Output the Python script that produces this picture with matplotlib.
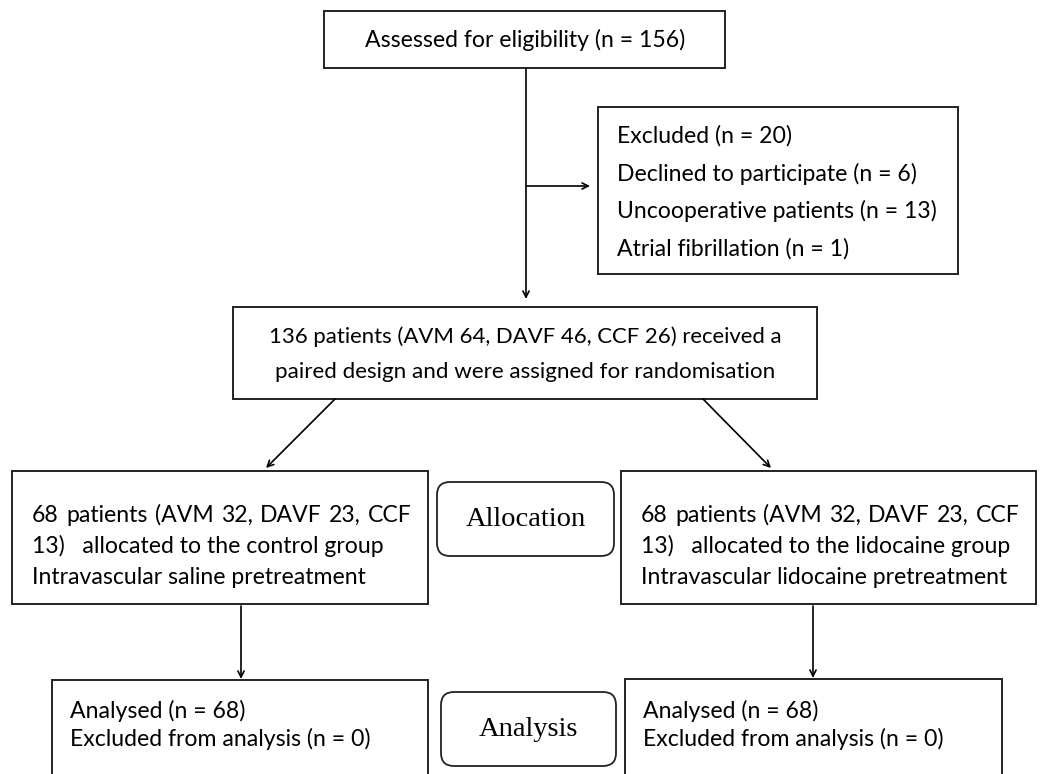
import matplotlib
matplotlib.use("Agg")
import matplotlib.pyplot as plt
from matplotlib.patches import Rectangle, FancyBboxPatch

# counts
n_assessed = 156
n_excluded = 20
excluded_reasons = ["Declined to participate", "Uncooperative patients", "Atrial fibrillation"]
excluded_counts = [6, 13, 1]
n_random = 136
random_split = {"AVM": 64, "DAVF": 46, "CCF": 26}
groups = ["control", "lidocaine"]
group_pretreat = ["saline", "lidocaine"]
group_n = [68, 68]
group_split = [{"AVM": 32, "DAVF": 23, "CCF": 13}, {"AVM": 32, "DAVF": 23, "CCF": 13}]
analysed_n = [68, 68]
analysis_excl = [0, 0]
stage_labels = ["Allocation", "Analysis"]

SANS = ["Lato", "DejaVu Sans"]
SERIF = ["Liberation Serif", "DejaVu Serif"]

fig = plt.figure(figsize=(10.4, 7.74), dpi=100)
ax = fig.add_axes([0, 0, 1, 1])
ax.set_xlim(0, 1040)
ax.set_ylim(774, 0)
ax.axis("off")
renderer = fig.canvas.get_renderer()

# font size fitted to the width of the top line
top_txt = f"Assessed for eligibility (n = {n_assessed})"
t = ax.text(0, 0, top_txt, family=SANS, fontsize=14)
w = t.get_window_extent(renderer).width
t.remove()
FS = 14 * 322 / w


def box(x0, y0, x1, y1, rounded=False):
    if rounded:
        p = FancyBboxPatch((x0, y0), x1 - x0, y1 - y0,
                           boxstyle="round,pad=0,rounding_size=13",
                           fc="white", ec="#222222", lw=1.3)
    else:
        p = Rectangle((x0, y0), x1 - x0, y1 - y0, fc="white", ec="#222222", lw=1.4)
    ax.add_patch(p)


def arrow(x0, y0, x1, y1):
    ax.annotate("", xy=(x1, y1), xytext=(x0, y0),
                arrowprops=dict(arrowstyle="->", color="black", lw=1.2,
                                shrinkA=0, shrinkB=0, mutation_scale=11))


def justified(text, x0, x1, y):
    words = text.split()
    objs = [ax.text(x0, y, wd, family=SANS, fontsize=FS, va="center") for wd in words]
    widths = [o.get_window_extent(renderer).width for o in objs]
    gap = (x1 - x0 - sum(widths)) / (len(words) - 1)
    x = x0
    for o, wd in zip(objs, widths):
        o.set_x(x)
        x += wd + gap


# top box
box(324, 11, 725, 68)
ax.text(525, 40, top_txt, family=SANS, fontsize=FS, ha="center", va="center")
arrow(526, 68, 526, 299)

# excluded box
box(598, 107, 958, 274)
excl_lines = [f"Excluded (n = {n_excluded})"] + \
    [f"{r} (n = {c})" for r, c in zip(excluded_reasons, excluded_counts)]
for i, s in enumerate(excl_lines):
    ax.text(617, 136 + i * 37.5, s, family=SANS, fontsize=FS, va="center")
arrow(526, 186, 590, 186)

# randomisation box
box(233, 307, 817, 399)
rs = ", ".join(f"{k} {v}" for k, v in random_split.items())
ax.text(525, 337, f"{n_random} patients ({rs}) received a",
        family=SANS, fontsize=FS * 0.96, ha="center", va="center")
ax.text(525, 372, "paired design and were assigned for randomisation",
        family=SANS, fontsize=FS * 0.97, ha="center", va="center")
arrow(335, 399, 266, 468)
arrow(703, 399, 771, 468)

# allocation boxes
mid_x = [(12, 428), (621, 1036)]
for g, (x0, x1) in enumerate(mid_x):
    box(x0, 471, x1, 604)
    sp = group_split[g]
    justified(f"{group_n[g]} patients (AVM {sp['AVM']}, DAVF {sp['DAVF']}, CCF",
              x0 + 20, x1 - 16, 515)
    ax.text(x0 + 20, 546, f"{sp['CCF']})   allocated to the {groups[g]} group",
            family=SANS, fontsize=FS, va="center")
    ax.text(x0 + 20, 577, f"Intravascular {group_pretreat[g]} pretreatment",
            family=SANS, fontsize=FS, va="center")

box(437, 482, 614, 556, rounded=True)
ax.text(526, 519, stage_labels[0], family=SERIF, fontsize=20.5, ha="center", va="center")

# analysis boxes
arrow(241, 606, 241, 679)
arrow(813, 606, 813, 678)
bot_x = [(52, 428), (625, 1002)]
for g, (x0, x1) in enumerate(bot_x):
    y0 = 680 if g == 0 else 679
    box(x0, y0, x1, 800)
    ax.text(x0 + 18, 711, f"Analysed (n = {analysed_n[g]})", family=SANS, fontsize=FS, va="center")
    ax.text(x0 + 18, 739, f"Excluded from analysis (n = {analysis_excl[g]})",
            family=SANS, fontsize=FS, va="center")

box(441, 692, 616, 766, rounded=True)
ax.text(528, 729, stage_labels[1], family=SERIF, fontsize=20.5, ha="center", va="center")

fig.savefig("out.png", dpi=100, facecolor="white")
